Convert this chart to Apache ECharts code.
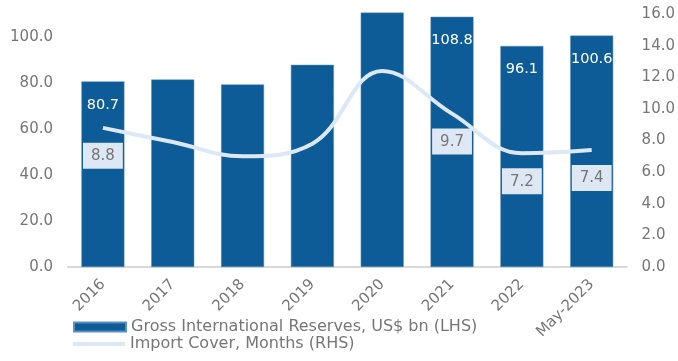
<!DOCTYPE html>
<html>
<head>
<meta charset="utf-8">
<script src="https://cdn.jsdelivr.net/npm/echarts@6/dist/echarts.min.js"></script>
<style>
html,body{margin:0;padding:0;background:#fff;}
#chart{width:678px;height:361px;}
</style>
</head>
<body>
<div id="chart"></div>
<script>
var categories = ['2016','2017','2018','2019','2020','2021','2022','May-2023'];
var reserves = [80.7, 81.5, 79.4, 87.9, 110.6, 108.8, 96.1, 100.6];
var importCover = [8.8, 7.9, 7.0, 7.8, 12.4, 9.7, 7.2, 7.4];
var labelledIdx = [0, 5, 6, 7];
var seriesNames = ['Gross International Reserves, US$ bn (LHS)', 'Import Cover, Months (RHS)'];

var FONT = 'DejaVu Sans';
var GRAY = '#767676';
var BAR = '#0d5b97';
var LINE = '#dce8f5';

var barData = reserves.map(function(v, i){
  return {value: v, label: {show: labelledIdx.indexOf(i) >= 0}};
});
var lineData = importCover.map(function(v, i){
  return {value: v, label: {show: labelledIdx.indexOf(i) >= 0}};
});

var legendText = {color: GRAY, fontSize: 16, fontFamily: FONT};

var chart = echarts.init(document.getElementById('chart'), null, {renderer: 'canvas'});
chart.setOption({
  animation: false,
  textStyle: {fontFamily: FONT},
  grid: {left: 68, right: 47, top: 14, bottom: 94, containLabel: false},
  legend: [
    {left: 73, top: 319, itemWidth: 52, itemHeight: 9, itemGap: 0, padding: 0,
     textStyle: legendText, data: [{name: seriesNames[0], icon: 'rect'}]},
    {left: 73, top: 336, itemWidth: 52, itemHeight: 4, itemGap: 0, padding: 0,
     textStyle: legendText, data: [{name: seriesNames[1], icon: 'rect', itemStyle: {color: LINE}}]}
  ],
  xAxis: {
    type: 'category', data: categories,
    axisLine: {lineStyle: {color: '#d9d9d9', width: 2}},
    axisTick: {show: false},
    axisLabel: {rotate: 45, color: GRAY, fontSize: 15, fontFamily: FONT, margin: 15, interval: 0}
  },
  yAxis: [
    {type: 'value', min: 0, max: 110, interval: 20,
     splitLine: {show: false}, axisLine: {show: false}, axisTick: {show: false},
     axisLabel: {color: GRAY, fontSize: 15, fontFamily: FONT, margin: 15, showMaxLabel: false,
       formatter: function(v){ return v % 20 === 0 ? v.toFixed(1) : ''; }}},
    {type: 'value', min: 0, max: 16, interval: 2,
     splitLine: {show: false}, axisLine: {show: false}, axisTick: {show: false},
     axisLabel: {color: GRAY, fontSize: 15, fontFamily: FONT, margin: 15,
       formatter: function(v){ return v.toFixed(1); }}}
  ],
  series: [
    {name: seriesNames[0], type: 'bar', yAxisIndex: 0, data: barData, barWidth: 43, clip: false,
     itemStyle: {color: BAR, borderColor: '#5b8fbd', borderWidth: 0.5},
     label: {position: 'insideTop', distance: 16, color: '#ffffff', fontSize: 14.5, fontFamily: FONT,
       formatter: function(p){ return p.value.toFixed(1); }}},
    {name: seriesNames[1], type: 'line', yAxisIndex: 1, data: lineData, smooth: 0.4,
     symbol: 'circle', symbolSize: 0, showSymbol: true,
     lineStyle: {color: LINE, width: 4},
     itemStyle: {color: LINE},
     label: {position: 'bottom', distance: 15, color: GRAY, fontSize: 15, fontFamily: FONT,
       backgroundColor: '#dde8f4', padding: [6, 8, 5, 8],
       formatter: function(p){ return p.value.toFixed(1); }}}
  ]
});
</script>
</body>
</html>
